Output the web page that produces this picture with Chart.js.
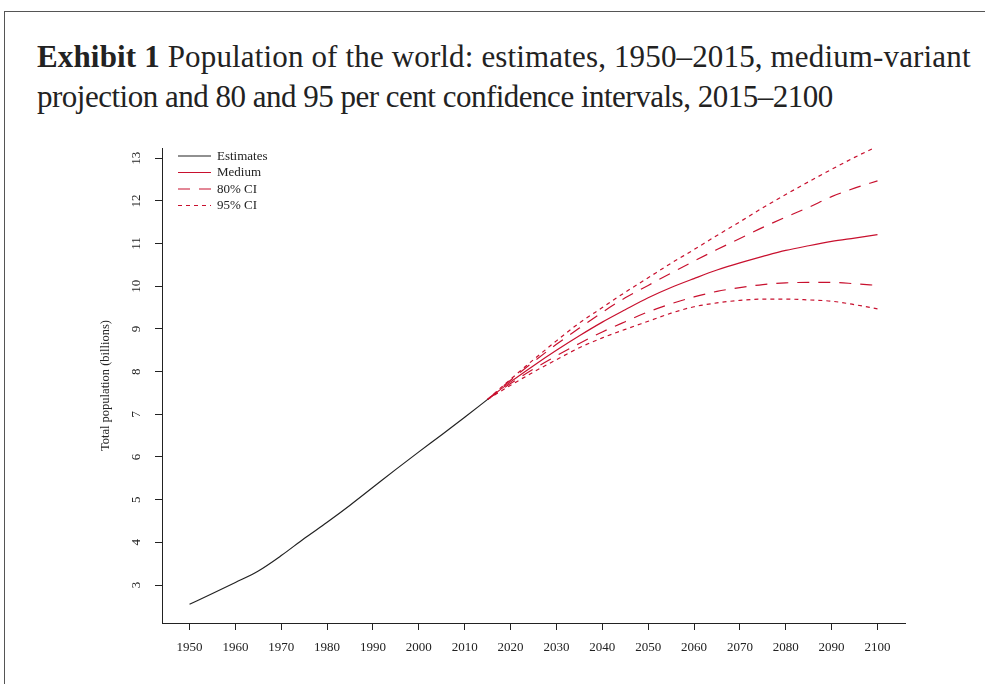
<!DOCTYPE html>
<html>
<head>
<meta charset="utf-8">
<script src="https://cdn.jsdelivr.net/npm/chart.js@4/dist/chart.umd.min.js"></script>
<style>
  html, body { margin: 0; padding: 0; background: #fff; width: 985px; height: 684px; overflow: hidden; }
  #frame { position: absolute; left: 4px; top: 11px; width: 1100px; height: 800px;
           border-top: 1.5px solid #555; border-left: 1.5px solid #555; }
  #title { position: absolute; left: 37px; top: 37px; font-family: "Liberation Serif", serif;
           font-size: 31px; line-height: 40px; color: #222; white-space: nowrap; }
  #title b { font-weight: bold; }
  #title .l1 { letter-spacing: 0.15px; }
  #title .l2 { letter-spacing: -0.5px; }
  #wrap { position: absolute; left: 0; top: 0; width: 985px; height: 684px; }
</style>
</head>
<body>
<div id="frame"></div>
<div id="title"><span class="l1"><b>Exhibit 1</b> Population of the world: estimates, 1950–2015, medium-variant</span><br><span class="l2">projection and 80 and 95 per cent confidence intervals, 2015–2100</span></div>
<div id="wrap"><canvas id="c" width="985" height="684"></canvas></div>
<script>
// World population, billions
const estYears  = [1950, 1955, 1960, 1965, 1970, 1975, 1980, 1985, 1990, 1995, 2000, 2005, 2010, 2015];
const estimates = [2.55, 2.80, 3.06, 3.33, 3.69, 4.09, 4.47, 4.87, 5.29, 5.71, 6.12, 6.52, 6.93, 7.35];

const projYears = [2015, 2020, 2025, 2030, 2035, 2040, 2045, 2050, 2055, 2060, 2065, 2070, 2075, 2080, 2085, 2090, 2095, 2100];
const medium    = [7.35, 7.76, 8.14, 8.50, 8.84, 9.16, 9.45, 9.73, 9.97, 10.18, 10.38, 10.55, 10.70, 10.84, 10.95, 11.05, 11.13, 11.21];
const ci80Low   = [7.35, 7.72, 8.06, 8.37, 8.66, 8.93, 9.17, 9.40, 9.59, 9.75, 9.88, 9.97, 10.04, 10.08, 10.09, 10.09, 10.06, 10.02];
const ci80High  = [7.35, 7.80, 8.23, 8.64, 9.02, 9.39, 9.73, 10.02, 10.31, 10.59, 10.86, 11.12, 11.38, 11.62, 11.85, 12.10, 12.30, 12.47];
const ci95Low   = [7.35, 7.68, 7.99, 8.28, 8.56, 8.79, 8.99, 9.18, 9.37, 9.52, 9.61, 9.67, 9.70, 9.70, 9.68, 9.65, 9.57, 9.47];
const ci95High  = [7.35, 7.82, 8.28, 8.72, 9.14, 9.50, 9.86, 10.20, 10.54, 10.86, 11.19, 11.51, 11.84, 12.15, 12.45, 12.74, 13.02, 13.28];

const xTicks = [1950, 1960, 1970, 1980, 1990, 2000, 2010, 2020, 2030, 2040, 2050, 2060, 2070, 2080, 2090, 2100];
const yTicks = [3, 4, 5, 6, 7, 8, 9, 10, 11, 12, 13];

const legendLabels = ['Estimates', 'Medium', '80% CI', '95% CI'];

const RED = '#c8102e';
const INK = '#222';
const SERIF = '"Liberation Serif", "Times New Roman", serif';

const pts = (xs, ys) => xs.map((x, i) => ({ x, y: ys[i] }));

const base = { pointRadius: 0, fill: false, cubicInterpolationMode: 'monotone' };
const datasets = [
  { ...base, label: legendLabels[0], data: pts(estYears, estimates), borderColor: INK, borderWidth: 1.2 },
  { ...base, label: legendLabels[1], data: pts(projYears, medium), borderColor: RED, borderWidth: 1.2 },
  { ...base, label: legendLabels[2], data: pts(projYears, ci80High), borderColor: RED, borderWidth: 1.2, borderDash: [12, 9] },
  { ...base, label: legendLabels[2], data: pts(projYears, ci80Low),  borderColor: RED, borderWidth: 1.2, borderDash: [12, 9] },
  { ...base, label: legendLabels[3], data: pts(projYears, ci95High), borderColor: RED, borderWidth: 1.2, borderDash: [4, 4] },
  { ...base, label: legendLabels[3], data: pts(projYears, ci95Low),  borderColor: RED, borderWidth: 1.2, borderDash: [4, 4] }
];

// Legend drawn as a stacked list in the top-left corner of the plot area
const cornerLegend = {
  id: 'cornerLegend',
  afterDraw(chart) {
    const { ctx, chartArea } = chart;
    const x0 = chartArea.left + 16, y0 = chartArea.top + 8, row = 16.5;
    ctx.save();
    ctx.font = '13px ' + SERIF;
    ctx.textBaseline = 'middle';
    legendLabels.forEach((lab, i) => {
      const ds = chart.data.datasets.find(d => d.label === lab);
      const y = y0 + i * row;
      ctx.beginPath();
      ctx.strokeStyle = ds.borderColor;
      ctx.lineWidth = ds.borderWidth;
      ctx.setLineDash(ds.borderDash || []);
      ctx.moveTo(x0, y);
      ctx.lineTo(x0 + 33, y);
      ctx.stroke();
      ctx.setLineDash([]);
      ctx.fillStyle = INK;
      ctx.fillText(lab, x0 + 39, y + 0.5);
    });
    ctx.restore();
  }
};

new Chart(document.getElementById('c'), {
  type: 'line',
  data: { datasets },
  options: {
    responsive: false,
    animation: false,
    devicePixelRatio: 1,
    layout: { padding: { left: 88, top: 148, right: 80, bottom: 20 } },
    plugins: { legend: { display: false }, tooltip: { enabled: false } },
    scales: {
      x: {
        type: 'linear',
        min: 1944,
        max: 2106,
        afterBuildTicks: s => { s.ticks = xTicks.map(v => ({ value: v })); },
        afterFit: s => { s.height = 41; },
        grid: { display: true, drawOnChartArea: false, drawTicks: true, tickLength: 7, tickColor: INK, tickWidth: 1 },
        border: { display: true, color: INK, width: 1 },
        ticks: { color: INK, font: { family: SERIF, size: 13 }, padding: 10, maxRotation: 0, autoSkip: false,
                 callback: v => String(v) }
      },
      y: {
        type: 'linear',
        min: 2.11,
        max: 13.24,
        afterBuildTicks: s => { s.ticks = yTicks.map(v => ({ value: v })); },
        afterFit: s => { s.width = 74; },
        grid: { display: true, drawOnChartArea: false, drawTicks: true, tickLength: 7, tickColor: INK, tickWidth: 1 },
        border: { display: true, color: INK, width: 1 },
        ticks: { color: INK, font: { family: SERIF, size: 13 }, padding: 12, minRotation: 90, maxRotation: 90,
                 crossAlign: 'center', autoSkip: false, callback: v => String(v) },
        title: { display: true, text: 'Total population (billions)', color: INK,
                 font: { family: SERIF, size: 12.5 }, padding: { top: 10, bottom: 0 } }
      }
    }
  },
  plugins: [cornerLegend]
});
</script>
</body>
</html>
